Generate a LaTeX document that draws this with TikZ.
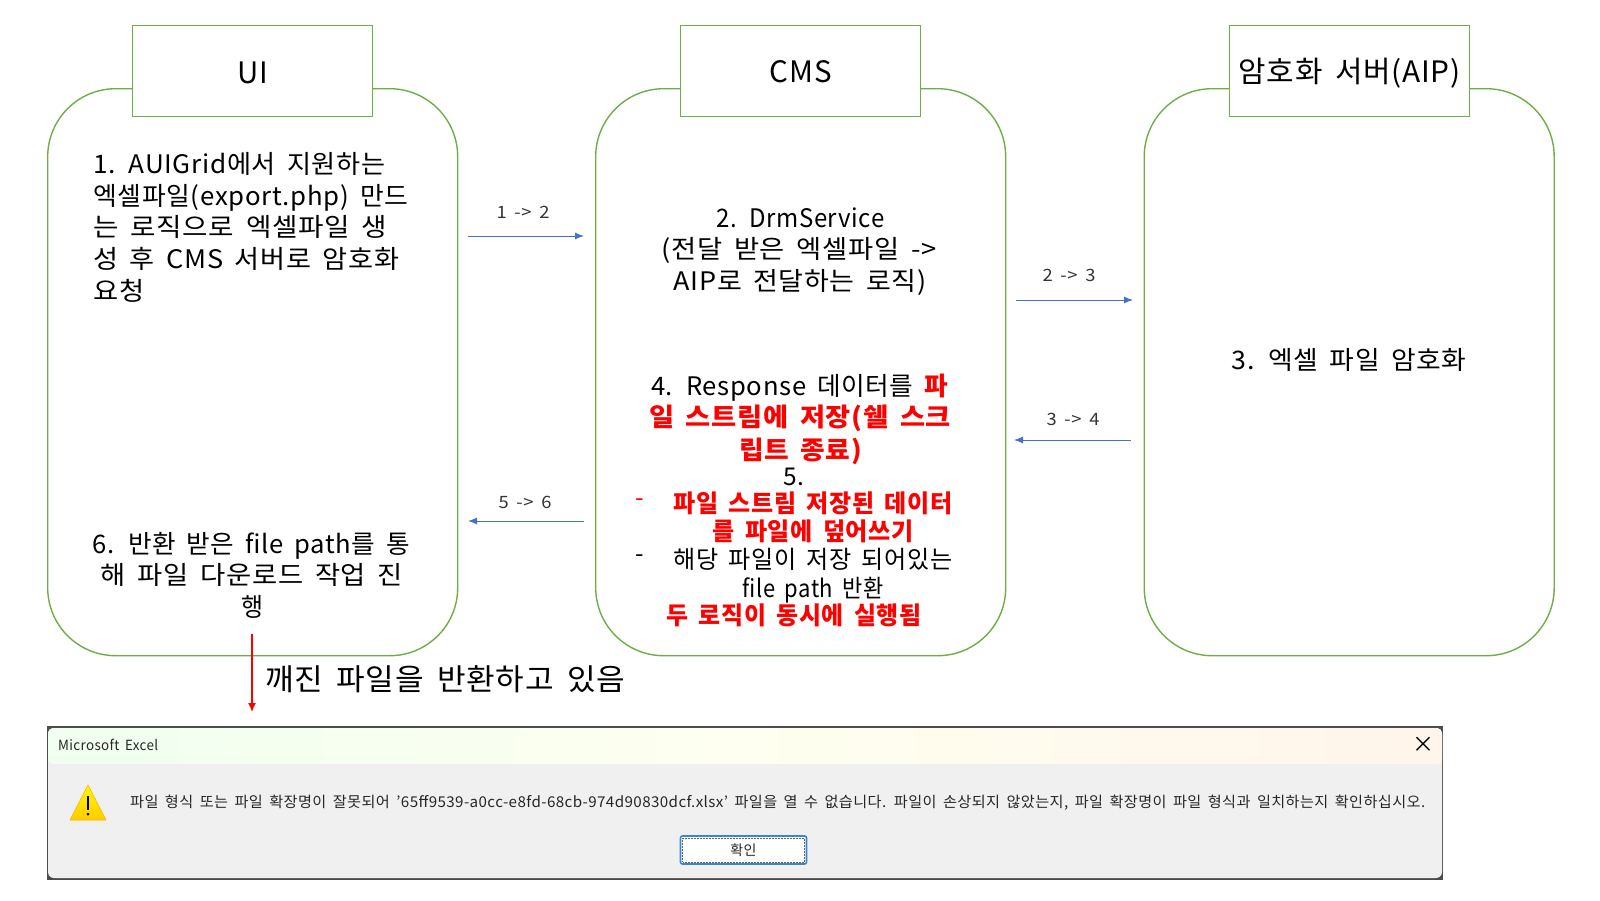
\documentclass[tikz,border=0pt]{standalone}
\usepackage{graphicx}
\usepackage{fontspec}
\setmainfont{Noto Sans CJK KR}[LetterSpace=2.6,WordSpace=1.7]
\usetikzlibrary{arrows.meta,shadings,calc}
\definecolor{pgreen}{HTML}{70AD47}
\definecolor{pblue}{HTML}{4472C4}
\definecolor{pred}{HTML}{FF0000}
\definecolor{dlgbg}{HTML}{F0F0F0}
\newcommand{\bodyfont}{\fontsize{25.5}{30}\selectfont}
\newcommand{\tightfont}{\fontsize{24.5}{28}\selectfont}
\newcommand{\smallfont}{\fontsize{17}{20}\selectfont}
\newcommand{\fitw}[2]{\resizebox{#1pt}{\height}{#2}}
\tikzset{
  panel/.style={draw=pgreen,line width=1.4pt,rounded corners=68pt,fill=white,minimum width=410pt,minimum height=567pt,anchor=north west,inner sep=0pt},
  headbox/.style={draw=pgreen,line width=1.4pt,fill=white,minimum width=240pt,minimum height=91pt,anchor=north west,inner sep=0pt,font=\fontsize{29.5}{34}\selectfont},
  line/.style={inner sep=0pt,font=\bodyfont,text=black},
  lineb/.style={inner sep=0pt,font=\tightfont,text=black},
  redb/.style={inner sep=0pt,font=\tightfont\bfseries,text=pred},
  tag/.style={inner sep=0pt,font=\smallfont,text=black!80},
  flow/.style={draw=pblue,line width=1pt,-{Latex[length=9pt,width=7pt]}},
}
\begin{document}
\begin{tikzpicture}[x=1pt,y=-1pt]
\useasboundingbox (0,0) rectangle (1600,900);
% panels
\node[panel] (uipanel) at (47,88) {};
\node[panel] (cmspanel) at (595,88) {};
\node[panel] (aippanel) at (1143.5,88) {};
\node[headbox] (uibox) at (132,25) {\raisebox{-2pt}[\height][\depth]{UI}};
\node[headbox] (cmsbox) at (680,25) {\raisebox{-1pt}{CMS}};
\node[headbox] (aipbox) at (1229,25) {\raisebox{-2pt}[\height][\depth]{\fitw{222}{암호화 서버(AIP)}}};
% UI text
\node[line,anchor=west] (u1) at (93,164) {\fitw{292}{1. AUIGrid에서 지원하는}};
\node[line,anchor=west] (u2) at (93,198) {\fitw{315}{엑셀파일(export.php) 만드}};
\node[line,anchor=west] (u3) at (93,227) {\fitw{294}{는 로직으로 엑셀파일 생}};
\node[line,anchor=west] (u4) at (93,259) {\fitw{306}{성 후 CMS 서버로 암호화}};
\node[line,anchor=west] (u5) at (93,291) {\fitw{51}{요청}};
\node[line] (u6) at (251.5,546) {\fitw{317}{6. 반환 받은 file path를 통}};
\node[line] (u7) at (252,575) {\fitw{302}{해 파일 다운로드 작업 진}};
\node[line] (u8) at (252,607) {\fitw{22}{행}};
% CMS text
\node[line] (c1) at (800.5,218) {\fitw{168}{2. DrmService}};
\node[line] (c2) at (799,250) {\fitw{275}{(전달 받은 엑셀파일 ->}};
\node[line] (c3) at (800,282) {\fitw{253}{AIP로 전달하는 로직)}};
\node[line] (c4) at (799.5,388) {\fitw{297}{4. Response 데이터를 \textcolor{pred}{\bfseries 파}}};
\node[line,font=\bodyfont\bfseries,text=pred] (c5) at (800,418) {\fitw{302}{일 스트림에 저장(쉘 스크}};
\node[line,font=\bodyfont\bfseries,text=pred] (c6) at (800.5,451) {\fitw{123}{립트 종료)}};
\node[lineb] (c7) at (794,477) {5.};
\node[lineb,text=pred] (c8a) at (640,503) {-};
\node[redb] (c8) at (813,503) {\fitw{279}{파일 스트림 저장된 데이터}};
\node[redb] (c9) at (813,531) {\fitw{201}{를 파일에 덮어쓰기}};
\node[lineb] (c10a) at (640,559) {-};
\node[lineb] (c10) at (813,559) {\fitw{279}{해당 파일이 저장 되어있는}};
\node[lineb] (c11) at (813,590) {\fitw{141}{file path 반환}};
\node[redb] (c12) at (794,615) {\fitw{255}{두 로직이 동시에 실행됨}};
% AIP text
\node[line] (a1) at (1349,360) {\fitw{235}{3. 엑셀 파일 암호화}};
% flows
\coordinate (f1s) at (468,236); \coordinate (f1e) at (584,236);
\coordinate (f2s) at (1016,300); \coordinate (f2e) at (1133,300);
\coordinate (f3s) at (1131,440); \coordinate (f3e) at (1014,440);
\coordinate (f4s) at (584,521); \coordinate (f4e) at (468,521);
\draw[flow] (f1s) -- (f1e);
\draw[flow] (f2s) -- (f2e);
\draw[flow] (f3s) -- (f3e);
\draw[flow] (f4s) -- (f4e);
\node[tag] (t1) at (523,212) {\fitw{53}{1 -> 2}};
\node[tag] (t2) at (1069,275) {\fitw{53}{2 -> 3}};
\node[tag] (t3) at (1073,419) {\fitw{53}{3 -> 4}};
\node[tag] (t4) at (525,502) {\fitw{53}{5 -> 6}};
% red arrow
\coordinate (rs) at (252,634);
\coordinate (re) at (252,712);
\draw[draw=pred,line width=1.5pt,-{Latex[length=9pt,width=8pt]}] (rs) -- (re);
\node[inner sep=0pt,anchor=west,font=\fontsize{30}{36}\selectfont] (rl) at (265,679) {\fitw{360}{깨진 파일을 반환하고 있음}};
% dialog
\fill[black!70] (47,726) rectangle (1443,880);
\path[fill=dlgbg,rounded corners=6pt] (48,728) rectangle (1442,878);
\shade[left color=green!6!white,right color=orange!8!white,middle color=green!4!yellow!6!white,rounded corners=5pt] (48,728) -- (1442,728) -- (1442,764) -- (48,764) -- cycle;
\node[inner sep=0pt,anchor=west,font=\fontsize{14}{17}\selectfont,text=black!85] (dtitle) at (58,745) {\fitw{100}{Microsoft Excel}};
\node[inner sep=0pt,font=\fontsize{22}{24}\selectfont] (dclose) at (1423,745) {×};
% warning icon
\path[top color=yellow!95!orange,bottom color=orange!40!yellow,draw=orange!60!yellow,line width=.6pt,line join=round] (88,785) -- (106,820) -- (70,820) -- cycle;
\draw[black,line width=1.6pt] (88,796) -- (88,810);
\fill[black] (88,814) circle (1.5pt);
\node[inner sep=0pt,anchor=west,font=\fontsize{14.9}{17}\selectfont,text=black!85] (dmsg) at (130,803) {\fitw{1295}{파일 형식 또는 파일 확장명이 잘못되어 '65ff9539-a0cc-e8fd-68cb-974d90830dcf.xlsx' 파일을 열 수 없습니다. 파일이 손상되지 않았는지, 파일 확장명이 파일 형식과 일치하는지 확인하십시오.}};
\node[draw=pblue!85!cyan,line width=1.6pt,rounded corners=2pt,fill=white,minimum width=126pt,minimum height=28pt,inner sep=0pt,font=\fontsize{14}{17}\selectfont,text=black!85] (dok) at (743.5,850) {확인};
\draw[black!60,densely dotted,line width=.5pt] ($(dok.north west)+(3,3)$) rectangle ($(dok.south east)+(-3,-3)$);
\end{tikzpicture}
\end{document}
